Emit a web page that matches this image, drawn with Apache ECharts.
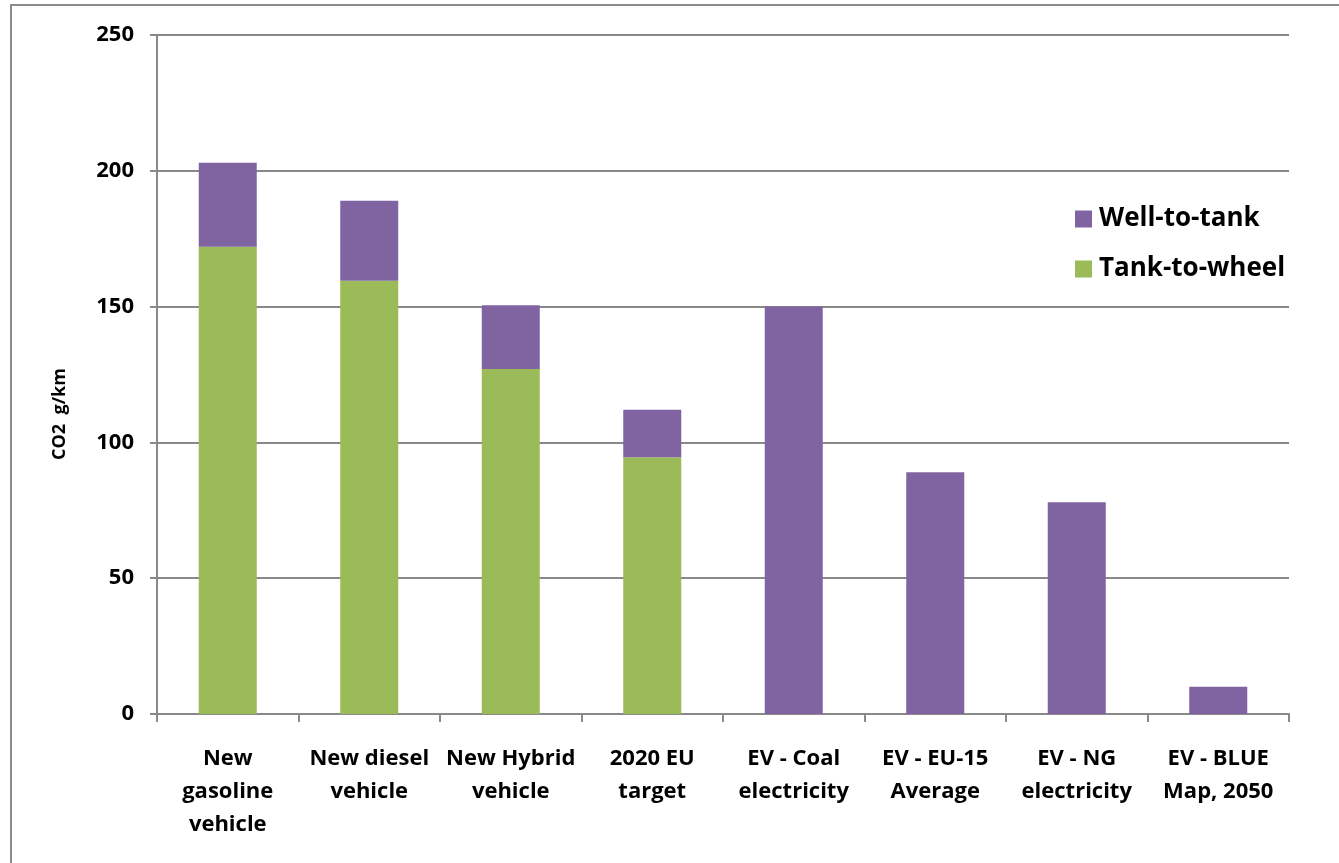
<!DOCTYPE html>
<html><head><meta charset="utf-8">
<script src="https://cdn.jsdelivr.net/npm/echarts@6/dist/echarts.min.js"></script>
<style>html,body{margin:0;padding:0;background:#fff}#c{width:1339px;height:863px}</style>
</head><body><div id="c"></div>
<script>
const categories = ['New\ngasoline\nvehicle','New diesel\nvehicle','New Hybrid\nvehicle','2020 EU\ntarget','EV - Coal\nelectricity','EV - EU-15\nAverage','EV - NG\nelectricity','EV - BLUE\nMap, 2050'];
const tankToWheel = [172, 159.5, 127, 94.5, 0, 0, 0, 0];
const wellToTank = [31, 29.5, 23.5, 17.5, 150, 89, 78, 10];
const yTicks = {min: 0, max: 250, interval: 50};
const font = '"Open Sans", "Liberation Sans", sans-serif';

const chart = echarts.init(document.getElementById('c'), null, {renderer: 'canvas'});
chart.setOption({
  animation: false,
  backgroundColor: '#fff',
  graphic: [
    {type: 'rect', shape: {x: 11, y: 5, width: 1400, height: 900}, style: {fill: 'none', stroke: '#8c8c8c', lineWidth: 2}, z: -1},
    {type: 'text', x: 60, y: 414, rotation: Math.PI / 2, style: {text: 'CO2  g/km', fontFamily: font, fontWeight: 'bold', fontSize: 18, fill: '#000', align: 'center', verticalAlign: 'middle'}}
  ],
  grid: {left: 157, right: 50, top: 35, bottom: 149, containLabel: false},
  legend: {
    orient: 'vertical', left: 1070, top: 201, itemGap: 24, itemWidth: 17, itemHeight: 17,
    icon: 'rect',
    data: ['Well-to-tank', 'Tank-to-wheel'],
    textStyle: {fontFamily: font, fontWeight: 'bold', fontSize: 26, color: '#000', padding: [0, 0, 0, 2]}
  },
  xAxis: {
    type: 'category', data: categories,
    axisLine: {lineStyle: {color: '#898989', width: 2}},
    axisTick: {show: true, length: 8, lineStyle: {color: '#898989', width: 2}},
    axisLabel: {interval: 0, margin: 28, lineHeight: 33, fontFamily: font, fontWeight: 'bold', fontSize: 22, color: '#000'}
  },
  yAxis: {
    type: 'value', min: yTicks.min, max: yTicks.max, interval: yTicks.interval,
    axisLine: {show: true, lineStyle: {color: '#898989', width: 2}},
    axisTick: {show: true, length: 7, lineStyle: {color: '#898989', width: 2}},
    splitLine: {lineStyle: {color: '#898989', width: 2}},
    axisLabel: {margin: 23, fontFamily: font, fontWeight: 'bold', fontSize: 22, color: '#000'}
  },
  series: [
    {name: 'Tank-to-wheel', type: 'bar', stack: 'a', data: tankToWheel, barWidth: '41%', itemStyle: {color: '#9BBB59'}},
    {name: 'Well-to-tank', type: 'bar', stack: 'a', data: wellToTank, barWidth: '41%', itemStyle: {color: '#8064A2'}}
  ]
});
</script></body></html>
